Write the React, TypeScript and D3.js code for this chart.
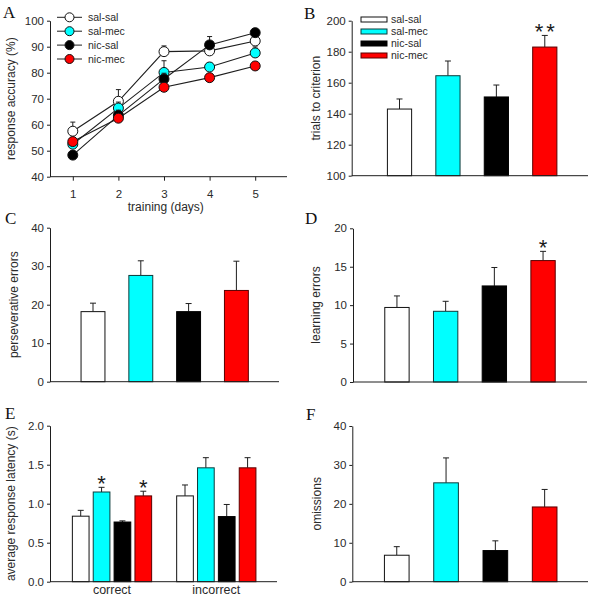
import React, { useRef, useEffect } from "react";
import * as d3 from "d3";

// ---------- data ----------
const groups = ["sal-sal", "sal-mec", "nic-sal", "nic-mec"];
const groupFill = ["#ffffff", "#00ffff", "#000000", "#ff0000"];
const groupStroke = ["#111111", "#0d3a3a", "#000000", "#5a0000"];

const days = [1, 2, 3, 4, 5];
const accSalSal = [57.5, 69, 88.1, 88.4, 92.2];
const accSalSalErr = [3.5, 4.5, 2.2, 2.6, 2.6];
const accSalMec = [52.5, 66.4, 80.1, 82.2, 87.6];
const accSalMecErr = [2.0, 2.3, 4.5, 1.6, 2.3];
const accNicSal = [48.3, 63.6, 77.6, 90.7, 95.4];
const accNicSalErr = [1.5, 2.0, 2.2, 3.2, 1.4];
const accNicMec = [53.5, 62.5, 74.4, 78.1, 82.6];
const accNicMecErr = [1.4, 1.4, 1.4, 1.4, 1.4];

const yTicksA = [40, 50, 60, 70, 80, 90, 100];

const trialsMean = [143, 164.5, 150.8, 183];
const trialsErr = [6.5, 9.5, 7.7, 7.5];
const yTicksB = [100, 120, 140, 160, 180, 200];

const persevMean = [18.2, 27.6, 18.2, 23.7];
const persevErr = [2.2, 3.8, 2.1, 7.6];
const yTicksC = [0, 10, 20, 30, 40];

const learnMean = [9.7, 9.2, 12.5, 15.8];
const learnErr = [1.5, 1.3, 2.4, 1.2];
const yTicksD = [0, 5, 10, 15, 20];

const latencyCats = ["correct", "incorrect"];
const latCorrectMean = [0.84, 1.15, 0.765, 1.10];
const latCorrectErr = [0.075, 0.06, 0.015, 0.06];
const latIncorrectMean = [1.10, 1.46, 0.835, 1.46];
const latIncorrectErr = [0.14, 0.13, 0.155, 0.13];
const yTicksE = [0, 0.5, 1.0, 1.5, 2.0];

const omitMean = [6.8, 25.4, 8.0, 19.2];
const omitErr = [2.2, 6.4, 2.5, 4.5];
const yTicksF = [0, 10, 20, 30, 40];

// ---------- style ----------
const SANS = "'Liberation Sans', Arial, Helvetica, sans-serif";
const SERIF = "'Liberation Serif', 'Times New Roman', serif";
const INK = "#1e1e1e";
const TICK_FS = 11.5;
const TITLE_FS = 12;
const LEG_FS = 10.5;
const STAR_FS = 22;

type Lin = d3.ScaleLinear<number, number>;

function YAxis({ scale, x, ticks, fmt }: { scale: Lin; x: number; ticks: number[]; fmt?: (d: number) => string }) {
  const ref = useRef<SVGGElement>(null);
  useEffect(() => {
    if (!ref.current) return;
    const g = d3.select(ref.current);
    const ax = d3.axisLeft(scale).tickValues(ticks).tickSize(3).tickSizeOuter(0).tickPadding(3);
    if (fmt) ax.tickFormat(fmt as any);
    g.call(ax as any);
    g.attr("font-size", null).attr("font-family", null);
    g.select(".domain").attr("stroke", INK);
    g.selectAll(".tick line").attr("stroke", INK);
    g.selectAll(".tick text").attr("fill", "#2a2a2a").attr("font-size", TICK_FS).attr("font-family", SANS);
  }, [scale, x, ticks, fmt]);
  return <g ref={ref} transform={`translate(${x},0)`} />;
}

function XAxisA({ scale, y, x0, x1 }: { scale: Lin; y: number; x0: number; x1: number }) {
  const ref = useRef<SVGGElement>(null);
  useEffect(() => {
    if (!ref.current) return;
    const g = d3.select(ref.current);
    g.call(d3.axisBottom(scale).tickValues(days).tickSize(4).tickSizeOuter(0).tickPadding(9).tickFormat(d3.format("d")) as any);
    g.attr("font-size", null).attr("font-family", null);
    g.select(".domain").attr("stroke", INK).attr("d", `M${x0},0H${x1}`);
    g.selectAll(".tick line").attr("stroke", INK);
    g.selectAll(".tick text").attr("fill", "#2a2a2a").attr("font-size", TICK_FS).attr("font-family", SANS);
  }, [scale, y, x0, x1]);
  return <g ref={ref} transform={`translate(0,${y})`} />;
}

function PanelLetter({ x, y, t }: { x: number; y: number; t: string }) {
  return (
    <text x={x} y={y} fontFamily={SERIF} fontSize={17} fill="#111">
      {t}
    </text>
  );
}

function YTitle({ x, y, t }: { x: number; y: number; t: string }) {
  return (
    <text transform={`translate(${x},${y}) rotate(-90)`} textAnchor="middle" fontFamily={SANS} fontSize={TITLE_FS} fill="#2a2a2a">
      {t}
    </text>
  );
}

function Star({ x, yTop, s }: { x: number; yTop: number; s: string }) {
  const ls = s.length > 1 ? 3 : 0;
  return (
    <text x={x + ls / 2} y={yTop + 3.5} textAnchor="middle" fontFamily={SANS} fontSize={STAR_FS} letterSpacing={ls} fill="#1a1a1a">
      {s}
    </text>
  );
}

function ErrBar({ x, yTop, yBase, cap = 6 }: { x: number; yTop: number; yBase: number; cap?: number }) {
  return (
    <g stroke={INK} strokeWidth={1}>
      <line x1={x} x2={x} y1={yBase} y2={yTop} />
      <line x1={x - cap / 2} x2={x + cap / 2} y1={yTop} y2={yTop} />
    </g>
  );
}

function BarPanel({
  means, errs, ticks, domain, yRange, axisX, axisEnd, bandRange, stars, fmt,
}: {
  means: number[]; errs: number[]; ticks: number[]; domain: [number, number]; yRange: [number, number];
  axisX: number; axisEnd: number; bandRange: [number, number]; stars?: { i: number; s: string }[]; fmt?: (d: number) => string;
}) {
  const y = d3.scaleLinear().domain(domain).range(yRange);
  const x = d3.scaleBand<string>().domain(groups).range(bandRange).paddingInner(0.5).paddingOuter(0.25);
  const base = y(domain[0]);
  return (
    <g>
      {groups.map((gname, i) => {
        const cx = (x(gname) as number) + x.bandwidth() / 2;
        return (
          <g key={gname}>
            <ErrBar x={cx} yTop={y(means[i] + errs[i])} yBase={y(means[i])} />
            <rect x={x(gname)} y={y(means[i])} width={x.bandwidth()} height={base - y(means[i])} fill={groupFill[i]} stroke={groupStroke[i]} strokeWidth={1} />
          </g>
        );
      })}
      {(stars || []).map((s) => {
        const cx = (x(groups[s.i]) as number) + x.bandwidth() / 2;
        return <Star key={s.i} x={cx} yTop={y(means[s.i] + errs[s.i])} s={s.s} />;
      })}
      <line x1={axisX} x2={axisEnd} y1={base} y2={base} stroke={INK} />
      <YAxis scale={y} x={axisX} ticks={ticks} fmt={fmt} />
    </g>
  );
}

function PanelA() {
  const x = d3.scaleLinear().domain([0.5, 5.5]).range([50, 278]);
  const y = d3.scaleLinear().domain([40, 100]).range([176.7, 20.7]);
  const series = [
    { m: accSalSal, e: accSalSalErr },
    { m: accSalMec, e: accSalMecErr },
    { m: accNicSal, e: accNicSalErr },
    { m: accNicMec, e: accNicMecErr },
  ];
  const line = d3.line<number>().x((_, i) => x(days[i])).y((d) => y(d));
  return (
    <g>
      <XAxisA scale={x} y={176.7} x0={50} x1={287} />
      <YAxis scale={y} x={50} ticks={yTicksA} />
      {series.map((s, k) => (
        <g key={k}>
          {s.m.map((v, i) => (
            <ErrBar key={i} x={x(days[i])} yTop={y(v + s.e[i])} yBase={y(v)} cap={5} />
          ))}
          <path d={line(s.m) as string} fill="none" stroke={INK} strokeWidth={1.1} />
          {s.m.map((v, i) => (
            <circle key={i} cx={x(days[i])} cy={y(v)} r={5} fill={groupFill[k]} stroke="#111" strokeWidth={1} />
          ))}
        </g>
      ))}
      {groups.map((gname, i) => {
        const ly = 17.3 + i * 13.9;
        return (
          <g key={gname}>
            <line x1={57} x2={82} y1={ly} y2={ly} stroke={INK} />
            <circle cx={69.5} cy={ly} r={4.5} fill={groupFill[i]} stroke="#111" />
            <text x={88} y={ly} dy="0.35em" fontFamily={SANS} fontSize={LEG_FS} fill="#2a2a2a">{gname}</text>
          </g>
        );
      })}
      <YTitle x={15} y={98.7} t="response accuracy (%)" />
      <text x={165.8} y={211} textAnchor="middle" fontFamily={SANS} fontSize={TITLE_FS} fill="#2a2a2a">training (days)</text>
      <PanelLetter x={3} y={18} t="A" />
    </g>
  );
}

function PanelB() {
  return (
    <g>
      <BarPanel means={trialsMean} errs={trialsErr} ticks={yTicksB} domain={[100, 200]} yRange={[175.7, 20.7]}
        axisX={351.7} axisEnd={588} bandRange={[375.3, 569]} stars={[{ i: 3, s: "**" }]} />
      {groups.map((gname, i) => {
        const ly = 19.5 + i * 12;
        return (
          <g key={gname}>
            <rect x={361} y={ly - 2.5} width={26} height={5} fill={groupFill[i]} stroke={groupStroke[i]} />
            <text x={391} y={ly} dy="0.35em" fontFamily={SANS} fontSize={LEG_FS} fill="#2a2a2a">{gname}</text>
          </g>
        );
      })}
      <YTitle x={320} y={98.2} t="trials to criterion" />
      <PanelLetter x={304} y={18.5} t="B" />
    </g>
  );
}

function PanelC() {
  return (
    <g>
      <BarPanel means={persevMean} errs={persevErr} ticks={yTicksC} domain={[0, 40]} yRange={[381.7, 227.7]}
        axisX={50} axisEnd={279} bandRange={[69.1, 260.3]} />
      <YTitle x={17.5} y={304.7} t="perseverative errors" />
      <PanelLetter x={5} y={224} t="C" />
    </g>
  );
}

function PanelD() {
  return (
    <g>
      <BarPanel means={learnMean} errs={learnErr} ticks={yTicksD} domain={[0, 20]} yRange={[382, 228.3]}
        axisX={353} axisEnd={587} bandRange={[372.6, 567.4]} stars={[{ i: 3, s: "*" }]} />
      <YTitle x={320} y={305} t="learning errors" />
      <PanelLetter x={305} y={224} t="D" />
    </g>
  );
}

function PanelE() {
  const y = d3.scaleLinear().domain([0, 2]).range([581.7, 425.7]);
  const outer = d3.scaleBand<string>().domain(latencyCats).range([59.85, 268.45]).padding(0);
  const inner = d3.scaleBand<string>().domain(groups).range([0, outer.bandwidth()]).paddingInner(0.2).paddingOuter(0.6);
  const data = [
    { m: latCorrectMean, e: latCorrectErr, stars: [1, 3] },
    { m: latIncorrectMean, e: latIncorrectErr, stars: [] as number[] },
  ];
  const base = y(0);
  return (
    <g>
      {latencyCats.map((cat, c) => {
        const ox = outer(cat) as number;
        return (
          <g key={cat}>
            {groups.map((gname, i) => {
              const bx = ox + (inner(gname) as number);
              const cx = bx + inner.bandwidth() / 2;
              const v = data[c].m[i];
              return (
                <g key={gname}>
                  <ErrBar x={cx} yTop={y(v + data[c].e[i])} yBase={y(v)} cap={6} />
                  <rect x={bx} y={y(v)} width={inner.bandwidth()} height={base - y(v)} fill={groupFill[i]} stroke={groupStroke[i]} />
                </g>
              );
            })}
            {data[c].stars.map((i) => {
              const cx = ox + (inner(groups[i]) as number) + inner.bandwidth() / 2;
              return <Star key={i} x={cx} yTop={y(data[c].m[i] + data[c].e[i])} s="*" />;
            })}
            <text x={ox + outer.bandwidth() / 2} y={594} textAnchor="middle" fontFamily={SANS} fontSize={12.5} fill="#2a2a2a">{cat}</text>
          </g>
        );
      })}
      <line x1={50} x2={277} y1={base} y2={base} stroke={INK} />
      <YAxis scale={y} x={50} ticks={yTicksE} fmt={d3.format(".1f")} />
      <YTitle x={15} y={503.7} t="average response latency (s)" />
      <PanelLetter x={5} y={418.5} t="E" />
    </g>
  );
}

function PanelF() {
  return (
    <g>
      <BarPanel means={omitMean} errs={omitErr} ticks={yTicksF} domain={[0, 40]} yRange={[581.7, 426]}
        axisX={352.3} axisEnd={588} bandRange={[372.1, 569.3]} />
      <YTitle x={321} y={503.8} t="omissions" />
      <PanelLetter x={306} y={420} t="F" />
    </g>
  );
}

export default function App() {
  return (
    <svg width={594} height={600} viewBox="0 0 594 600" style={{ position: "absolute", left: 0, top: 0, display: "block", background: "#fff" }}>
      <rect width={594} height={600} fill="#fff" />
      <PanelA />
      <PanelB />
      <PanelC />
      <PanelD />
      <PanelE />
      <PanelF />
    </svg>
  );
}
